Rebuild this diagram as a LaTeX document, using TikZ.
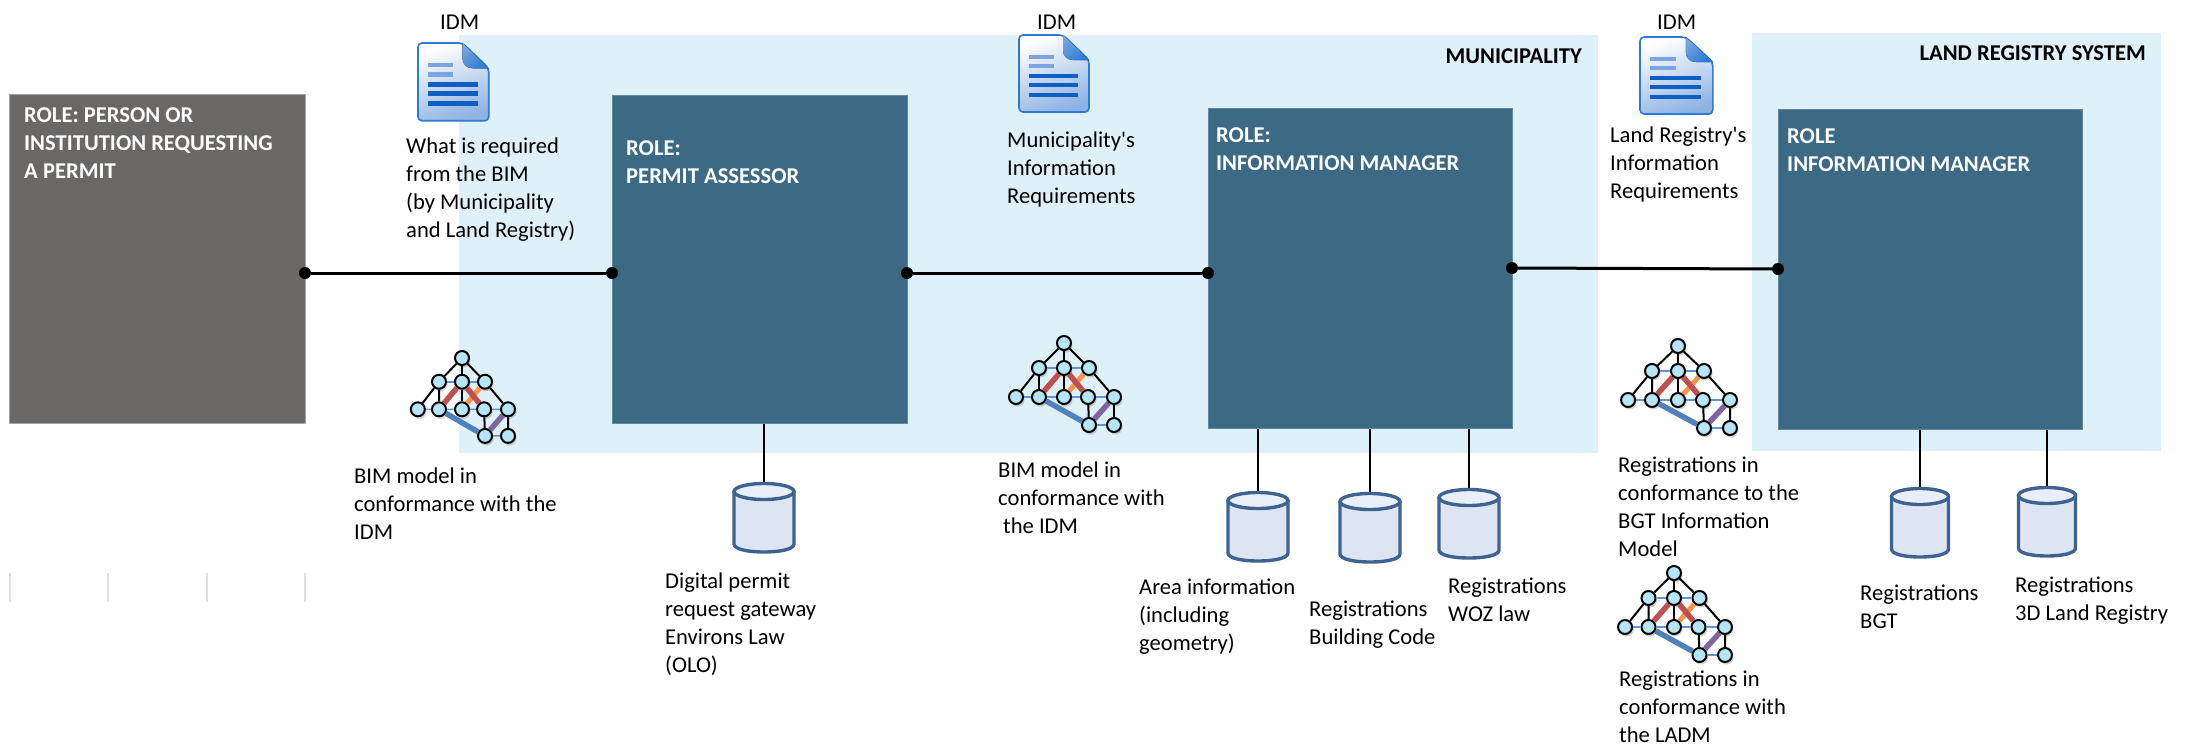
\documentclass[tikz,border=0pt]{standalone}
\usepackage{fontspec}
\setmainfont{Carlito}
\newfontfamily\aposfont{Carlito}
\usepackage{tikz}
\usetikzlibrary{shadows}
\definecolor{bandblue}{HTML}{DEF0F8}
\definecolor{rolegrey}{HTML}{696866}
\definecolor{roleblue}{HTML}{3C6A84}
\definecolor{dbedge}{HTML}{3F6391}
\definecolor{dbbody}{HTML}{DCE5F1}
\definecolor{dbtop}{HTML}{E9EFF8}
\definecolor{docedge}{HTML}{2A7BD6}
\definecolor{docdark}{HTML}{0F5EC4}
\definecolor{doclight}{HTML}{7AA5DE}
\definecolor{bimfill}{HTML}{B5E6F7}
\definecolor{bimthin}{HTML}{5F93D6}
\definecolor{bimred}{HTML}{C0504D}
\definecolor{bimorange}{HTML}{F79646}
\definecolor{bimpurple}{HTML}{8064A2}
\definecolor{bimblue}{HTML}{4F81BD}
\tikzset{
    band/.style={fill=bandblue, draw=none, inner sep=0pt, anchor=north west},
    rolebox/.style={fill=roleblue, draw=roleblue!80!white, line width=0.8pt, inner sep=0pt, anchor=north west},
    rolelabel/.style={anchor=north west, inner sep=0pt, align=left, yshift=15.6pt, text=white,
        font=\fontsize{22.6}{28}\selectfont\bfseries, execute at begin node={\rule{0pt}{19.6pt}}},
    txt/.style={anchor=north west, inner sep=0pt, align=left, yshift=15.6pt, text=black,
        font=\fontsize{22.6}{28}\selectfont, execute at begin node={\rule{0pt}{19.6pt}}},
    bandlabel/.style={anchor=base east, inner sep=0pt, font=\fontsize{22.6}{28}\selectfont\bfseries},
    conndot/.style={circle, fill=black, draw=none, inner sep=0pt, minimum size=12pt},
    connline/.style={draw=black, line width=3pt},
    dbline/.style={draw=black, line width=2.6pt},
    bimdot/.style={circle, fill=bimfill, draw=black, line width=2pt, inner sep=0pt, minimum size=14pt,
        drop shadow={opacity=.35, shadow xshift=1.5pt, shadow yshift=-2.5pt}},
    dbicon/.pic={
        \coordinate (-top) at (0,0);
        \draw[dbedge, line width=3.4pt, fill=dbbody] (-30,9) -- (-30,62)
            .. controls (-30,67) and (-17,70) .. (0,70) .. controls (17,70) and (30,67) .. (30,62) -- (30,9);
        \draw[dbedge, line width=3.4pt, fill=dbtop] (0,9.5) ellipse [x radius=30, y radius=8];
    },
    bimicon/.pic={
        \foreach \nm/\px/\py in {top/0/0, ua/-25/25, ub/0/25, uc/25/25,
            ma/-48/54, mb/-25/54, mc/0/54, md/24/54, me/50/54, la/25/82, lb/50/82}
            \node[bimdot] (-\nm) at (\px,\py) {};
        \foreach \from/\to in {ua/ub, ub/uc, ma/mb, mb/mc, mc/md, md/me, la/lb}
            \draw[bimthin, line width=1.6pt] (-\from) -- (-\to);
        \draw[bimred, line width=5.5pt] (-mb) -- (-ub);
        \draw[bimorange, line width=5pt] (-mc) -- (-uc);
        \draw[bimred, line width=5.5pt] (-ub) -- (-md);
        \draw[bimpurple, line width=5.5pt] (-la) -- (-me);
        \draw[bimblue, line width=5.5pt] (-mb) -- (-la);
        \foreach \from/\to in {top/ua, top/ub, top/uc, ua/ma, ua/mb, ub/mc, uc/me, md/la, me/lb}
            \draw[black, line width=2pt] (-\from) -- (-\to);
    },
    docicon/.pic={
        \draw[docedge, line width=1.6pt, top color=white, bottom color=doclight!85!white, shading angle=20, rounded corners=4pt]
            (0,0) -- (44,0) -- (70,25) -- (70,77) -- (0,77) -- cycle;
        \fill[top color=doclight, bottom color=docedge, shading angle=40]
            (44,0) -- (70,25) -- (54,25) .. controls (48,25) and (44,21) .. (44,15) -- cycle;
        \foreach \ly in {22,31}
            \draw[doclight, line width=4.5pt] (10,\ly) -- (35,\ly);
        \foreach \ly in {41,50,60}
            \draw[docdark, line width=4.5pt] (10,\ly) -- (59,\ly);
    },
}
\begin{document}
\begin{tikzpicture}[x=1pt, y=-1pt]
    \useasboundingbox (0,0) rectangle (2196,748);
    % backgrounds
    \node[band, minimum width=1139pt, minimum height=418pt] (municipality) at (459,35) {};
    \node[band, minimum width=409pt, minimum height=418pt] (landsystem) at (1752,33) {};
    \node[bandlabel] (municipalitylabel) at (1582,63) {MUNICIPALITY};
    \node[bandlabel] (landsystemlabel) at (2146,60) {LAND REGISTRY SYSTEM};

    % roles
    \node[rolebox, fill=rolegrey, draw=rolegrey!60!white, minimum width=296pt, minimum height=329pt] (person) at (9,94) {};
    \node[rolebox, minimum width=295pt, minimum height=328pt] (assessor) at (612,95) {};
    \node[rolebox, minimum width=304pt, minimum height=320pt] (manager) at (1208,108) {};
    \node[rolebox, minimum width=304pt, minimum height=320pt] (registrar) at (1778,109) {};
    \node[rolelabel] (personlabel) at (24,123) {ROLE: PERSON OR\\INSTITUTION REQUESTING\\A PERMIT};
    \node[rolelabel] (assessorlabel) at (626,156) {ROLE:\\PERMIT ASSESSOR};
    \node[rolelabel] (managerlabel) at (1216,143) {ROLE:\\INFORMATION MANAGER};
    \node[rolelabel] (registrarlabel) at (1787,144) {ROLE\\INFORMATION MANAGER};

    % connectors
    \node[conndot] (dota) at (305,273) {};
    \node[conndot] (dotb) at (612,273) {};
    \node[conndot] (dotc) at (907,273) {};
    \node[conndot] (dotd) at (1208,273) {};
    \node[conndot] (dote) at (1512,268) {};
    \node[conndot] (dotf) at (1778,269) {};
    \draw[connline] (dota) -- (dotb);
    \draw[connline] (dotc) -- (dotd);
    \draw[connline] (dote) -- (dotf);

    % registers
    \pic (gate) at (764,482) {dbicon};
    \pic (area) at (1258,491) {dbicon};
    \pic (bcode) at (1370,492) {dbicon};
    \pic (woz) at (1469,488) {dbicon};
    \pic (bgt) [xscale=.95] at (1920,487) {dbicon};
    \pic (land) [xscale=.95] at (2047,486) {dbicon};
    \draw[dbline] (gate-top) -- (gate-top |- assessor.south);
    \draw[dbline] (area-top) -- (area-top |- manager.south);
    \draw[dbline] (bcode-top) -- (bcode-top |- manager.south);
    \draw[dbline] (woz-top) -- (woz-top |- manager.south);
    \draw[dbline] (bgt-top) -- (bgt-top |- registrar.south);
    \draw[dbline] (land-top) -- (land-top |- registrar.south);

    % icons
    \pic (doca) [xscale=1.01, yscale=1.01] at (418,43) {docicon};
    \pic (docb) at (1019,35) {docicon};
    \pic (docc) [xscale=1.04] at (1640,37) {docicon};
    \pic (bima) [xscale=.92, yscale=.95] at (462,358) {bimicon};
    \pic (bimb) at (1064,343) {bimicon};
    \pic (bimc) [xscale=1.04] at (1678,346) {bimicon};
    \pic (bimd) [xscale=1.02] at (1674,573) {bimicon};

    % texts
    \node[txt] (idma) at (440,25) {IDM};
    \node[txt] (idmb) at (1037,25) {IDM};
    \node[txt] (idmc) at (1657,25) {IDM};
    \node[txt] (requiredtext) at (406,153) {What is required\\from the BIM\\(by Municipality\\and Land Registry)};
    \node[txt] (municipalitytext) at (1007,147) {Municipality{\aposfont\symbol{39}}s\\Information\\Requirements};
    \node[txt] (landtext) at (1610,142) {Land Registry{\aposfont\symbol{39}}s\\Information\\Requirements};
    \node[txt] (bimatext) at (354,483) {BIM model in\\conformance with the\\IDM};
    \node[txt] (bimbtext) at (998,477) {BIM model in\\conformance with\\\hspace*{5pt}the IDM};
    \node[txt] (bimctext) at (1618,472) {Registrations in\\conformance to the\\BGT Information\\Model};
    \node[txt] (bimdtext) at (1619,686) {Registrations in\\conformance with\\the LADM};
    \node[txt] (gatetext) at (665,588) {Digital permit\\request gateway\\Environs Law\\(OLO)};
    \node[txt] (areatext) at (1139,594) {Area information\\(including\\geometry)};
    \node[txt] (bcodetext) at (1309,616) {Registrations\\Building Code};
    \node[txt] (woztext) at (1448,593) {Registrations\\WOZ law};
    \node[txt] (bgttext) at (1860,600) {Registrations\\BGT};
    \node[txt] (landtext3d) at (2015,592) {Registrations\\3D Land Registry};

    % marks under the grey role
    \foreach \stubx in {10,108,207,305}
        \draw[black!12, line width=1.4pt] (\stubx,573) -- (\stubx,602);
\end{tikzpicture}
\end{document}
